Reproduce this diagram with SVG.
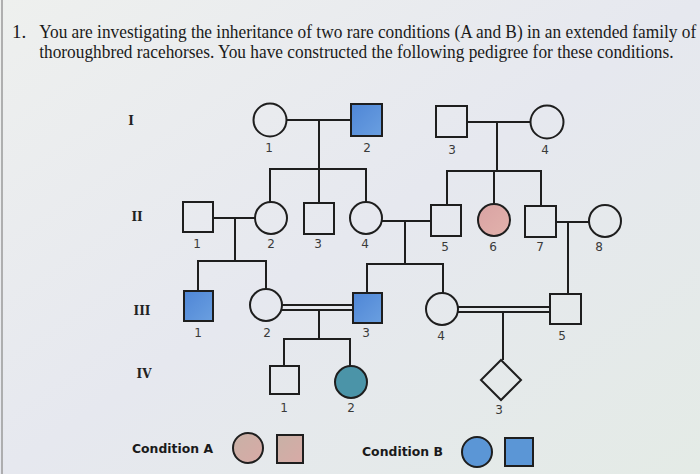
<svg xmlns="http://www.w3.org/2000/svg" width="700" height="474" viewBox="0 0 700 474">
<defs>
<linearGradient id="bg" x1="0" y1="0" x2="1" y2="1">
<stop offset="0" stop-color="#eef0ee"/>
<stop offset="0.5" stop-color="#e6e8ef"/>
<stop offset="1" stop-color="#e4ebe6"/>
</linearGradient>
<linearGradient id="blue" x1="0" y1="0" x2="1" y2="1">
<stop offset="0" stop-color="#4f86d6"/>
<stop offset="1" stop-color="#6a9fe0"/>
</linearGradient>
<linearGradient id="pink" x1="0" y1="0" x2="1" y2="1">
<stop offset="0" stop-color="#d9a3a3"/>
<stop offset="1" stop-color="#e2b2ac"/>
</linearGradient>
<linearGradient id="legA" x1="0" y1="0" x2="1" y2="1">
<stop offset="0" stop-color="#c8b1a6"/>
<stop offset="1" stop-color="#d8aaa6"/>
</linearGradient>
</defs>
<style>
.ln{stroke:#1e1e1e;stroke-width:2;fill:none}
.sh{stroke:#1e1e1e;stroke-width:2;fill:none}
.aff{fill:url(#blue)}
.affA{fill:url(#pink)}
.teal{fill:#4b94a8}
.legA{fill:url(#legA)}
.legB{fill:#5b96d6}
.num{font-family:"DejaVu Sans","Liberation Sans",sans-serif;font-size:12px;fill:#3a3a3a;text-anchor:middle}
.gen{font-family:"DejaVu Serif","Liberation Serif",serif;font-weight:bold;font-size:12px;fill:#222;text-anchor:middle}
.title{font-family:"Liberation Serif",serif;font-size:19px;fill:#1a1a1a}
.leg{font-family:"DejaVu Sans",sans-serif;font-weight:bold;font-size:12.5px;fill:#1a1a1a}
</style>
<rect width="700" height="474" fill="url(#bg)"/>
<line x1="2" y1="0" x2="2" y2="474" stroke="#9a9a9a" stroke-width="1.5"/>

<g id="title">
<text class="title" x="12" y="38">1.</text>
<g transform="scale(0.912 1)">
<text class="title" x="43" y="38">You are investigating the inheritance of two rare conditions (A and B) in an extended family of</text>
<text class="title" x="43" y="58">thoroughbred racehorses. You have constructed the following pedigree for these conditions.</text>
</g>
</g>

<g id="gen-labels">
<text class="gen" x="131" y="125">I</text>
<text class="gen" x="137" y="221">II</text>
<text class="gen" x="142" y="315">III</text>
<text class="gen" x="144" y="378">IV</text>
</g>

<g id="connectors">
<line class="ln" x1="287" y1="120" x2="351" y2="120"/>
<line class="ln" x1="319" y1="120" x2="319" y2="169"/>
<line class="ln" x1="269" y1="169" x2="367" y2="169"/>
<line class="ln" x1="270" y1="169" x2="270" y2="202"/>
<line class="ln" x1="319" y1="169" x2="319" y2="203"/>
<line class="ln" x1="366" y1="169" x2="366" y2="202"/>
<line class="ln" x1="467" y1="122" x2="531" y2="122"/>
<line class="ln" x1="497" y1="122" x2="497" y2="171"/>
<line class="ln" x1="446" y1="171" x2="542" y2="171"/>
<line class="ln" x1="447" y1="171" x2="447" y2="205"/>
<line class="ln" x1="494" y1="171" x2="494" y2="204"/>
<line class="ln" x1="541" y1="171" x2="541" y2="206"/>
<line class="ln" x1="213" y1="218" x2="255" y2="218"/>
<line class="ln" x1="235" y1="218" x2="235" y2="261"/>
<line class="ln" x1="197" y1="261" x2="267" y2="261"/>
<line class="ln" x1="198" y1="261" x2="198" y2="291"/>
<line class="ln" x1="266" y1="261" x2="266" y2="289"/>
<line class="ln" x1="382" y1="221" x2="431" y2="221"/>
<line class="ln" x1="405" y1="221" x2="405" y2="264"/>
<line class="ln" x1="366" y1="264" x2="444" y2="264"/>
<line class="ln" x1="367" y1="264" x2="367" y2="293"/>
<line class="ln" x1="443" y1="264" x2="443" y2="293"/>
<line class="ln" x1="556" y1="222" x2="589" y2="222"/>
<line class="ln" x1="568" y1="222" x2="568" y2="294"/>
<line class="ln" x1="282" y1="305" x2="353" y2="305"/>
<line class="ln" x1="282" y1="310" x2="353" y2="310"/>
<line class="ln" x1="319" y1="310" x2="319" y2="339"/>
<line class="ln" x1="283" y1="339" x2="351" y2="339"/>
<line class="ln" x1="284" y1="339" x2="284" y2="366"/>
<line class="ln" x1="350" y1="339" x2="350" y2="366"/>
<line class="ln" x1="458" y1="307" x2="550" y2="307"/>
<line class="ln" x1="458" y1="312" x2="550" y2="312"/>
<line class="ln" x1="503" y1="312" x2="503" y2="360"/>
</g>

<g id="I-1"><circle class="sh" cx="270" cy="120" r="16.5"/><text class="num" x="269" y="152">1</text></g>
<g id="I-2"><rect class="sh aff" x="351" y="104" width="31" height="32"/><text class="num" x="367" y="152">2</text></g>
<g id="I-3"><rect class="sh" x="436" y="106" width="31" height="31"/><text class="num" x="452" y="154">3</text></g>
<g id="I-4"><circle class="sh" cx="547" cy="122" r="16.5"/><text class="num" x="545" y="154">4</text></g>

<g id="II-1"><rect class="sh" x="183" y="202" width="30" height="30"/><text class="num" x="197" y="248">1</text></g>
<g id="II-2"><circle class="sh" cx="271" cy="218" r="16"/><text class="num" x="271" y="248">2</text></g>
<g id="II-3"><rect class="sh" x="304" y="203" width="30" height="31"/><text class="num" x="318" y="248">3</text></g>
<g id="II-4"><circle class="sh" cx="366" cy="218" r="16"/><text class="num" x="365" y="248">4</text></g>
<g id="II-5"><rect class="sh" x="431" y="205" width="30" height="31"/><text class="num" x="445" y="251">5</text></g>
<g id="II-6"><circle class="sh affA" cx="494" cy="220" r="16"/><text class="num" x="493" y="251">6</text></g>
<g id="II-7"><rect class="sh" x="525" y="206" width="31" height="31"/><text class="num" x="540" y="251">7</text></g>
<g id="II-8"><circle class="sh" cx="605" cy="221" r="16"/><text class="num" x="599" y="251">8</text></g>

<g id="III-1"><rect class="sh aff" x="184" y="291" width="29" height="30"/><text class="num" x="198" y="337">1</text></g>
<g id="III-2"><circle class="sh" cx="266" cy="305" r="16"/><text class="num" x="267" y="337">2</text></g>
<g id="III-3"><rect class="sh aff" x="353" y="293" width="29" height="30"/><text class="num" x="366" y="337">3</text></g>
<g id="III-4"><circle class="sh" cx="442" cy="309" r="16"/><text class="num" x="441" y="340">4</text></g>
<g id="III-5"><rect class="sh" x="550" y="294" width="31" height="30"/><text class="num" x="562" y="340">5</text></g>

<g id="IV-1"><rect class="sh" x="270" y="366" width="29" height="28"/><text class="num" x="284" y="412">1</text></g>
<g id="IV-2"><circle class="sh teal" cx="351" cy="382" r="16"/><text class="num" x="351" y="412">2</text></g>
<g id="IV-3"><polygon class="sh" points="501,360 521,380 501,400 481,380"/><text class="num" x="499" y="414">3</text></g>

<g id="legend-A">
<text class="leg" x="132" y="453" textLength="81" lengthAdjust="spacingAndGlyphs">Condition A</text>
<circle class="sh legA" cx="248" cy="448" r="15"/>
<rect class="sh legA" x="277" y="435" width="26" height="28"/>
</g>
<g id="legend-B">
<text class="leg" x="362" y="456" textLength="81" lengthAdjust="spacingAndGlyphs">Condition B</text>
<circle class="sh legB" cx="477" cy="452" r="15"/>
<rect class="sh legB" x="505" y="438" width="28" height="28"/>
</g>
</svg>
